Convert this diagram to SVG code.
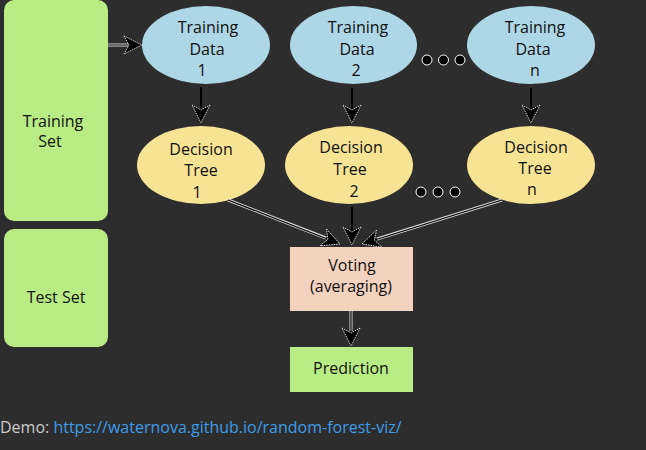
<svg xmlns="http://www.w3.org/2000/svg" width="646" height="450" viewBox="0 0 646 450">
<defs>
<style>
.t{font-family:"Open Sans","Liberation Sans",sans-serif;font-size:16px;fill:#111;text-anchor:middle}
.set{fill:#b9ec84}
.data{fill:#aed7e6}
.tree{fill:#f6e394}
.dot{fill:#000;stroke:#fff;stroke-width:1}
.ln{stroke:#000;stroke-width:2;fill:none}
.halo{stroke:#d8d8d8;stroke-width:3;fill:none}
.thin{stroke:#000;stroke-width:1.2;fill:none}
</style>
<marker id="ah" markerUnits="userSpaceOnUse" markerWidth="22" markerHeight="22" viewBox="-1 -1 22 22" refX="18" refY="9" orient="auto">
<path d="M0,0 L18,9 L0,18 L5,9 Z" fill="#000" stroke="#fff" stroke-width="0.8" stroke-dasharray="1.5,1"/>
</marker>
</defs>
<rect width="646" height="450" fill="#2d2d2d"/>

<g id="training-set">
<rect class="set" x="4" y="0" width="104" height="221" rx="10"/>
<text class="t" x="53" y="127">Training</text>
<text class="t" x="50" y="147">Set</text>
</g>
<g id="test-set">
<rect class="set" x="4" y="229" width="104" height="118" rx="10"/>
<text class="t" x="56" y="303">Test Set</text>
</g>

<g id="data1">
<ellipse class="data" cx="206" cy="45" rx="64" ry="39"/>
<text class="t" x="208" y="33">Training</text>
<text class="t" x="207" y="55">Data</text>
<text class="t" x="202" y="76">1</text>
</g>
<g id="data2">
<ellipse class="data" cx="353.5" cy="45" rx="63.5" ry="39"/>
<text class="t" x="358" y="33">Training</text>
<text class="t" x="357" y="55">Data</text>
<text class="t" x="356" y="76">2</text>
</g>
<g id="datan">
<ellipse class="data" cx="531" cy="45" rx="64" ry="39"/>
<text class="t" x="535" y="33">Training</text>
<text class="t" x="533" y="55">Data</text>
<text class="t" x="535" y="76">n</text>
</g>

<g id="tree1">
<ellipse class="tree" cx="201" cy="165" rx="64" ry="39"/>
<text class="t" x="201" y="155">Decision</text>
<text class="t" x="201" y="176">Tree</text>
<text class="t" x="197" y="198">1</text>
</g>
<g id="tree2">
<ellipse class="tree" cx="349" cy="165" rx="64" ry="39"/>
<text class="t" x="351" y="153">Decision</text>
<text class="t" x="350" y="175">Tree</text>
<text class="t" x="354" y="197">2</text>
</g>
<g id="treen">
<ellipse class="tree" cx="531" cy="165" rx="64" ry="39"/>
<text class="t" x="536" y="153">Decision</text>
<text class="t" x="535" y="174">Tree</text>
<text class="t" x="532" y="195">n</text>
</g>

<g id="dots-data">
<circle class="dot" cx="427" cy="60" r="5"/>
<circle class="dot" cx="443.5" cy="60" r="5"/>
<circle class="dot" cx="460" cy="60" r="5"/>
</g>
<g id="dots-tree">
<circle class="dot" cx="421" cy="192" r="5"/>
<circle class="dot" cx="438" cy="192" r="5"/>
<circle class="dot" cx="455" cy="192" r="5"/>
</g>

<g id="voting">
<rect x="290" y="247" width="123" height="64" fill="#f3d2bf"/>
<text class="t" x="352" y="271">Voting</text>
<text class="t" x="351" y="292">(averaging)</text>
</g>
<g id="prediction">
<rect x="290" y="347" width="123" height="45" fill="#b9ec84"/>
<text class="t" x="351" y="374">Prediction</text>
</g>

<g id="connectors">
<line class="halo" x1="108" y1="45" x2="130" y2="45"/>
<line class="thin" x1="108" y1="45" x2="142" y2="45" marker-end="url(#ah)"/>
<line class="ln" x1="201" y1="87" x2="201" y2="123" marker-end="url(#ah)"/>
<line class="ln" x1="352" y1="88" x2="352" y2="123" marker-end="url(#ah)"/>
<line class="ln" x1="531" y1="88" x2="531" y2="123" marker-end="url(#ah)"/>
<line class="halo" x1="228" y1="200" x2="326" y2="238"/>
<line class="thin" x1="228" y1="200" x2="340" y2="244" marker-end="url(#ah)"/>
<line class="ln" x1="352" y1="207" x2="352" y2="245" marker-end="url(#ah)"/>
<line class="halo" x1="502" y1="200" x2="377" y2="239"/>
<line class="thin" x1="502" y1="200" x2="362" y2="244" marker-end="url(#ah)"/>
<line class="halo" x1="351" y1="311" x2="351" y2="331"/>
<line class="thin" x1="351" y1="311" x2="351" y2="346" marker-end="url(#ah)"/>
</g>

<g id="demo">
<text x="0" y="433" font-family="'Open Sans','Liberation Sans',sans-serif" font-size="16" fill="#cccccc">Demo: <tspan fill="#3d9ce8">https://waternova.github.io/random-forest-viz/</tspan></text>
</g>
</svg>
